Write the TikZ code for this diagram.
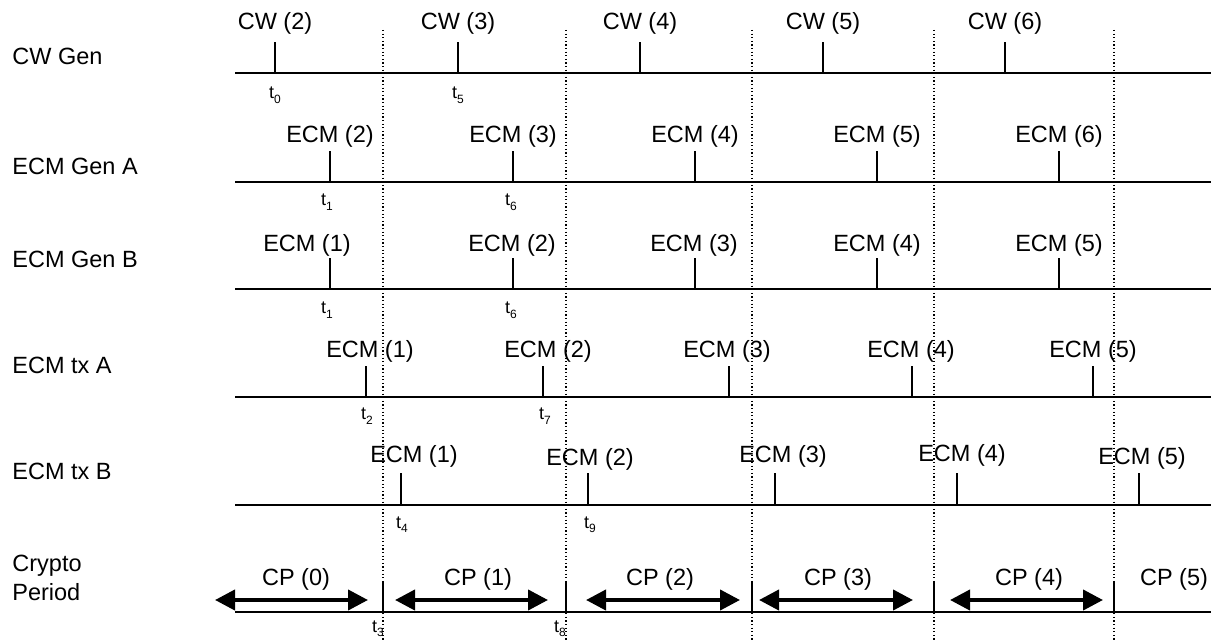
\documentclass[tikz,border=0pt]{standalone}
\usepackage{fontspec}
\setmainfont{Liberation Sans}
\usetikzlibrary{arrows.meta}
\tikzset{
  lbl/.style={font=\fontsize{11.75}{14.5}\selectfont, inner sep=0pt, anchor=base},
  tlbl/.style={font=\fontsize{9}{10}\selectfont, inner sep=0pt, anchor=base},
  rowname/.style={lbl, anchor=base west},
  timeline/.style={black, line width=1pt},
  tickline/.style={black, line width=1.2pt},
  cpsep/.style={black, line width=.6pt, dash pattern=on .6pt off 1.2pt},
  cparrow/.style={black, line width=2pt, {Triangle[length=10pt,width=10pt]}-{Triangle[length=10pt,width=10pt]}},
}
\newcommand{\tmark}[1]{t\raisebox{-2.2pt}{\fontsize{6}{6}\selectfont #1}}
\begin{document}
\begin{tikzpicture}[x=.5pt,y=-.5pt]
\useasboundingbox (0,0) rectangle (1213,640);
% crypto period boundaries
\foreach \x in {383,566,752,934,1114}
  \draw[cpsep] (\x,30) -- (\x,640);
% row names
\node[rowname] (nCW) at (12,65) {CW Gen};
\node[rowname] (nGenA) at (12,175) {ECM Gen A};
\node[rowname] (nGenB) at (12,268) {ECM Gen B};
\node[rowname] (nTxA) at (12,373) {ECM tx A};
\node[rowname] (nTxB) at (12,479) {ECM tx B};
\node[lbl, anchor=north west, align=left] (nCP) at (12,555) {Crypto\\Period};
% time lines
\foreach \y in {73,182,289,397,505,612}
  \draw[timeline] (235,\y) -- (1211,\y);
% CW Gen
\foreach \x/\n in {275/2,458/3,640/4,823/5,1005/6} {
  \draw[tickline] (\x,73) --++(0,-31);
  \node[lbl] (cw\n) at (\x,30) {CW (\n)};
}
% ECM Gen A
\foreach \x/\n in {330/2,513/3,695/4,877/5,1059/6} {
  \draw[tickline] (\x,182) --++(0,-31);
  \node[lbl] (ga\n) at (\x,143) {ECM (\n)};
}
% ECM Gen B
\foreach \x/\lx/\n in {330/307/1,513/512/2,695/694/3,877/877/4,1059/1059/5} {
  \draw[tickline] (\x,289) --++(0,-31);
  \node[lbl] (gb\n) at (\lx,252) {ECM (\n)};
}
% ECM tx A
\foreach \x/\lx/\n in {366/370/1,543/548/2,729/727/3,912/911/4,1093/1093/5} {
  \draw[tickline] (\x,397) --++(0,-31);
  \node[lbl] (ta\n) at (\lx,358) {ECM (\n)};
}
% ECM tx B
\foreach \x/\lx/\ly/\n in {401/414/462/1,588/590/465/2,775/783/462/3,957/962/461/4,1139/1142/464/5} {
  \draw[tickline] (\x,505) --++(0,-32);
  \node[lbl] (tb\n) at (\lx,\ly) {ECM (\n)};
}
% crypto periods
\foreach \x in {383,566,752,934,1114}
  \draw[tickline] (\x,612) --++(0,-30);
\foreach \a/\b/\lx/\n in {215/368/296/0,395/548/478/1,586/740/660/2,759/913/838/3,950/1103/1029/4} {
  \coordinate (cpL\n) at (\a,600);
  \coordinate (cpR\n) at (\b,600);
  \draw[cparrow] (cpL\n) -- (cpR\n);
  \node[lbl] (cp\n) at (\lx,585) {CP (\n)};
}
\node[lbl] (cp5) at (1174,585) {CP (5)};
% time marks
\foreach \x/\y/\n in {275/99/0,458/99/5,327/206/1,511/206/6,327/314/1,511/314/6,367/420/2,545/420/7,402/528/4,590/528/9,378/632/3,560/632/8}
  \node[tlbl] (t\n-\y) at (\x,\y) {\tmark{\n}};
\end{tikzpicture}
\end{document}
